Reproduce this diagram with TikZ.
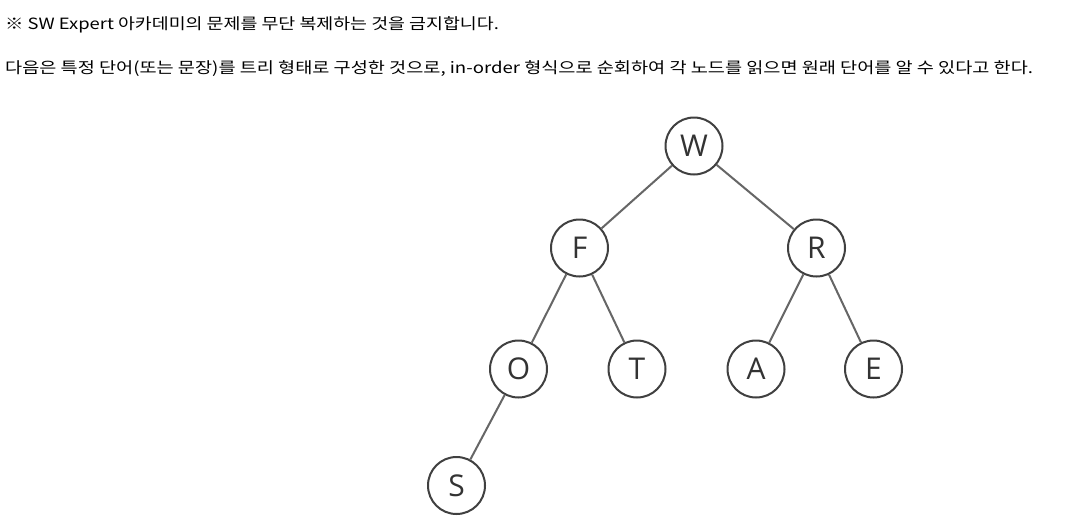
\documentclass[tikz,border=0pt]{standalone}
\usepackage{fontspec}
\setmainfont{Open Sans}
\newfontfamily\kr{Noto Sans CJK KR}
\newfontfamily\letterfont{Open Sans}
\begin{document}
\begin{tikzpicture}[x=1pt,y=-1pt,
  tnode/.style={circle,draw=black!75,line width=2pt,minimum size=57pt,inner sep=0pt,
    font=\letterfont\fontsize{30}{30}\selectfont,text=black!80},
  tedge/.style={draw=black!60,line width=2pt},
  txt/.style={anchor=base west,inner sep=0pt,font=\kr\fontsize{15.5}{17}\selectfont,text=black}]
\useasboundingbox[fill=white] (0,0) rectangle (1073,520);
\node[txt] (l1) at (5,29) {\scalebox{1.186}[1]{※ SW Expert 아카데미의 문제를 무단 복제하는 것을 금지합니다.}};
\node[txt] (l2) at (5,73) {\scalebox{1.2}[1]{다음은 특정 단어(또는 문장)를 트리 형태로 구성한 것으로, in-order 형식으로 순회하여 각 노드를 읽으면 원래 단어를 알 수 있다고 한다.}};
\node[tnode] (W) at (694,146) {W};
\node[tnode] (F) at (579.5,248) {F};
\node[tnode] (R) at (816.5,248) {R};
\node[tnode] (O) at (518.5,369) {O};
\node[tnode] (T) at (637,369) {T};
\node[tnode] (A) at (756,369) {A};
\node[tnode] (E) at (873.5,369) {E};
\node[tnode] (S) at (456.5,485.5) {S};
\draw[tedge] (W) -- (F);
\draw[tedge] (W) -- (R);
\draw[tedge] (F) -- (O);
\draw[tedge] (F) -- (T);
\draw[tedge] (R) -- (A);
\draw[tedge] (R) -- (E);
\draw[tedge] (O) -- (S);
\end{tikzpicture}
\end{document}
